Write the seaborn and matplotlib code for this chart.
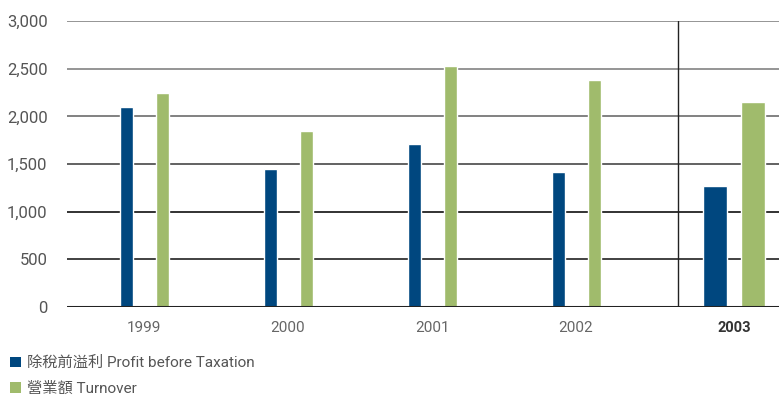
import matplotlib
matplotlib.use("Agg")
import matplotlib.pyplot as plt
import matplotlib.transforms as mtrans
import seaborn as sns
import pandas as pd
from matplotlib.patches import Patch

years = ["1999", "2000", "2001", "2002", "2003"]
profit = [2100, 1450, 1710, 1420, 1265]
turnover = [2250, 1850, 2530, 2380, 2150]
series_names = ["除稅前溢利 Profit before Taxation", "營業額 Turnover"]
yticks = [0, 500, 1000, 1500, 2000, 2500, 3000]

blue = "#00477f"
green = "#a0bb6c"

df = pd.DataFrame({
    "year": years * 2,
    "value": profit + turnover,
    "series": [series_names[0]] * len(years) + [series_names[1]] * len(years),
})

sns.set_theme(style="white")
plt.rcParams["font.family"] = ["Roboto", "Noto Sans CJK TC", "DejaVu Sans"]

fig = plt.figure(figsize=(7.79, 3.96), dpi=100)
ax = fig.add_axes([67 / 779, 1 - 307 / 396, 1 - 67 / 779, (307 - 21) / 396])

sns.barplot(data=df, x="year", y="value", hue="series", order=years,
            hue_order=series_names, palette=[blue, green], width=0.5,
            saturation=1, legend=False, ax=ax)

# narrow bars with a gap between the two series; last year emphasised
px = 144.0  # pixels per category unit
for p in ax.patches:
    w = p.get_width()
    c = p.get_x() + w / 2
    cat = round(c)
    sign = -1 if c < cat else 1
    if cat == len(years) - 1:
        newc = cat + 14 / px + sign * 19 / px
        neww = 24 / px
    else:
        newc = cat + sign * 18 / px
        neww = 13 / px
    p.set_x(newc - neww / 2)
    p.set_width(neww)

ax.set_xlim((67 - 144) / px, (779 - 144) / px)
ax.set_ylim(0, 3000)

grid_colors = ["#222222", "#333333", "#222222", "#555555", "#777777", "#8c8c8c", "#8c8c8c"]
for yv, col in zip(yticks, grid_colors):
    ax.axhline(yv, color=col, lw=2.2 if yv == 0 else 1.3, zorder=0.5 if yv else 3)

ax.axvline((678 - 144) / px, color="#222222", lw=1.0, zorder=0.5)

for s in ax.spines.values():
    s.set_visible(False)

ax.set_yticks(yticks)
ax.set_yticklabels([f"{v:,}" for v in yticks], fontsize=12, color="#555555")
ax.tick_params(axis="y", length=0, pad=14)

ax.set_xticks(range(len(years)))
ax.set_xticklabels(years, fontsize=11, color="#666666")
ax.tick_params(axis="x", length=0, pad=10)
labs = ax.get_xticklabels()
labs[-1].set_fontweight("bold")
labs[-1].set_color("#333333")
labs[-1].set_fontsize(10.5)
labs[-1].set_transform(labs[-1].get_transform() + mtrans.ScaledTranslation(14 / 100, 0, fig.dpi_scale_trans))

ax.set_xlabel("")
ax.set_ylabel("")

handles = [Patch(facecolor=blue, edgecolor="none"), Patch(facecolor=green, edgecolor="none")]
fig.legend(handles, series_names, loc="upper left", bbox_to_anchor=(10 / 779, 1 - 356 / 396),
           frameon=False, borderpad=0, borderaxespad=0, handlelength=0.7, handleheight=0.7,
           handletextpad=0.4, labelspacing=0.75, prop={"size": 11}, labelcolor="#555555")

fig.savefig("out.png", dpi=100)
